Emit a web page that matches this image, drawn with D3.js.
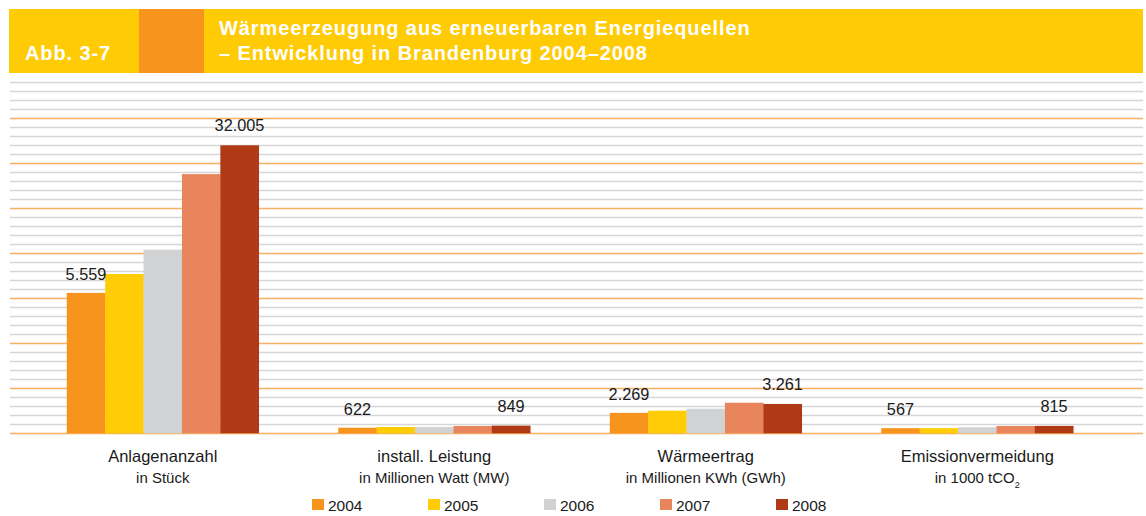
<!DOCTYPE html>
<html>
<head>
<meta charset="utf-8">
<script src="https://cdn.jsdelivr.net/npm/d3@7"></script>
<style>
  body { margin: 0; background: #fff; }
  svg { display: block; font-family: "Liberation Sans", Arial, sans-serif; }
</style>
</head>
<body>
<svg width="1146" height="516"></svg>
<script>
// data (bar heights in thousands)
const categories = ['Anlagenanzahl', 'install. Leistung', 'Wärmeertrag', 'Emissionvermeidung'];
const subLabels = ['in Stück', 'in Millionen Watt (MW)', 'in Millionen KWh (GWh)', 'in 1000 tCO_2'];
const years = ['2004', '2005', '2006', '2007', '2008'];
const anlagen = [15.6, 17.7, 20.4, 28.8, 32.0];
const leistung = [0.62, 0.70, 0.70, 0.81, 0.85];
const waerme = [2.27, 2.51, 2.73, 3.40, 3.26];
const emission = [0.57, 0.57, 0.67, 0.81, 0.82];
const firstLabels = ['5.559', '622', '2.269', '567'];
const lastLabels = ['32.005', '849', '3.261', '815'];
const colors = ['#f7941d', '#ffcc05', '#d1d2d4', '#e8855d', '#b03916'];

const series = [anlagen, leistung, waerme, emission];

const svg = d3.select('svg');

/**
 * Header band.
 */
svg.append('rect').attr('x', 9).attr('y', 9).attr('width', 1134).attr('height', 64).attr('fill', '#ffcb05');
svg.append('rect').attr('x', 139).attr('y', 9).attr('width', 65).attr('height', 64).attr('fill', '#f7941d');
svg.append('text').attr('x', 25).attr('y', 60).text('Abb. 3-7')
    .attr('fill', '#fff').attr('font-weight', 'bold').attr('font-size', 20).attr('letter-spacing', 0.9);
const title = svg.append('text').attr('fill', '#fff').attr('font-weight', 'bold')
    .attr('font-size', 20).attr('letter-spacing', 0.9);
title.append('tspan').attr('x', 219).attr('y', 35).text('Wärmeerzeugung aus erneuerbaren Energiequellen');
title.append('tspan').attr('x', 219).attr('y', 60).text('– Entwicklung in Brandenburg 2004–2008');

/**
 * Scales.
 */
const y = d3.scaleLinear().domain([0, 39]).range([433.3, 82.3]);
const x = d3.scaleBand().domain(categories).range([27, 1113]).paddingInner(0.293).paddingOuter(0.1465);
const xs = d3.scaleBand().domain(years).range([0, x.bandwidth()]);

/**
 * Grid.
 */
const grid = svg.append('g');
grid.selectAll('line')
    .data(d3.range(0, 40))
    .join('line')
    .attr('x1', 10).attr('x2', 1143)
    .attr('y1', d => Math.round(y(d)) + 0.5).attr('y2', d => Math.round(y(d)) + 0.5)
    .attr('stroke', d => d % 5 === 0 ? '#f9b060' : '#d6d6d6')
    .attr('stroke-width', d => d % 5 === 0 ? 1.3 : 1.6);

/**
 * Bars.
 */
const groups = svg.selectAll('g.cat')
    .data(categories)
    .join('g')
    .attr('class', 'cat')
    .attr('transform', d => `translate(${x(d)},0)`);

groups.selectAll('rect')
    .data((d, i) => series[i].map((v, j) => ({ year: years[j], value: v, color: colors[j] })))
    .join('rect')
    .attr('x', d => xs(d.year))
    .attr('width', xs.bandwidth() + 0.3)
    .attr('y', d => y(d.value))
    .attr('height', d => y(0) - y(d.value))
    .attr('fill', d => d.color);

// value labels over first and last year
groups.append('text')
    .attr('x', xs('2004') + xs.bandwidth() / 2)
    .attr('y', (d, i) => y(series[i][0]) - 13)
    .attr('text-anchor', 'middle')
    .attr('font-size', 16.3)
    .attr('fill', '#1a1a1a')
    .text((d, i) => firstLabels[i]);

groups.append('text')
    .attr('x', xs('2008') + xs.bandwidth() / 2)
    .attr('y', (d, i) => y(series[i][4]) - 14)
    .attr('text-anchor', 'middle')
    .attr('font-size', 16.3)
    .attr('fill', '#1a1a1a')
    .text((d, i) => lastLabels[i]);

// category labels
groups.append('text')
    .attr('x', x.bandwidth() / 2)
    .attr('y', 462)
    .attr('text-anchor', 'middle')
    .attr('font-size', 16.5)
    .attr('fill', '#1a1a1a')
    .text(d => d);

groups.append('text')
    .attr('x', x.bandwidth() / 2)
    .attr('y', 483)
    .attr('text-anchor', 'middle')
    .attr('font-size', 15)
    .attr('fill', '#1a1a1a')
    .each(function (d, i) {
        const parts = subLabels[i].split('_');
        const t = d3.select(this);
        t.append('tspan').text(parts[0]);
        if (parts[1]) {
            t.append('tspan').attr('font-size', 9).attr('dy', 5).text(parts[1]);
        }
    });

/**
 * Legend.
 */
const legend = svg.append('g')
    .selectAll('g')
    .data(years)
    .join('g')
    .attr('transform', (d, i) => `translate(${312 + i * 116},499)`);

legend.append('rect')
    .attr('width', 12).attr('height', 11)
    .attr('fill', (d, i) => colors[i]);

legend.append('text')
    .attr('x', 16).attr('y', 11.5)
    .attr('font-size', 15.5)
    .attr('fill', '#1a1a1a')
    .text(d => d);
</script>
</body>
</html>
